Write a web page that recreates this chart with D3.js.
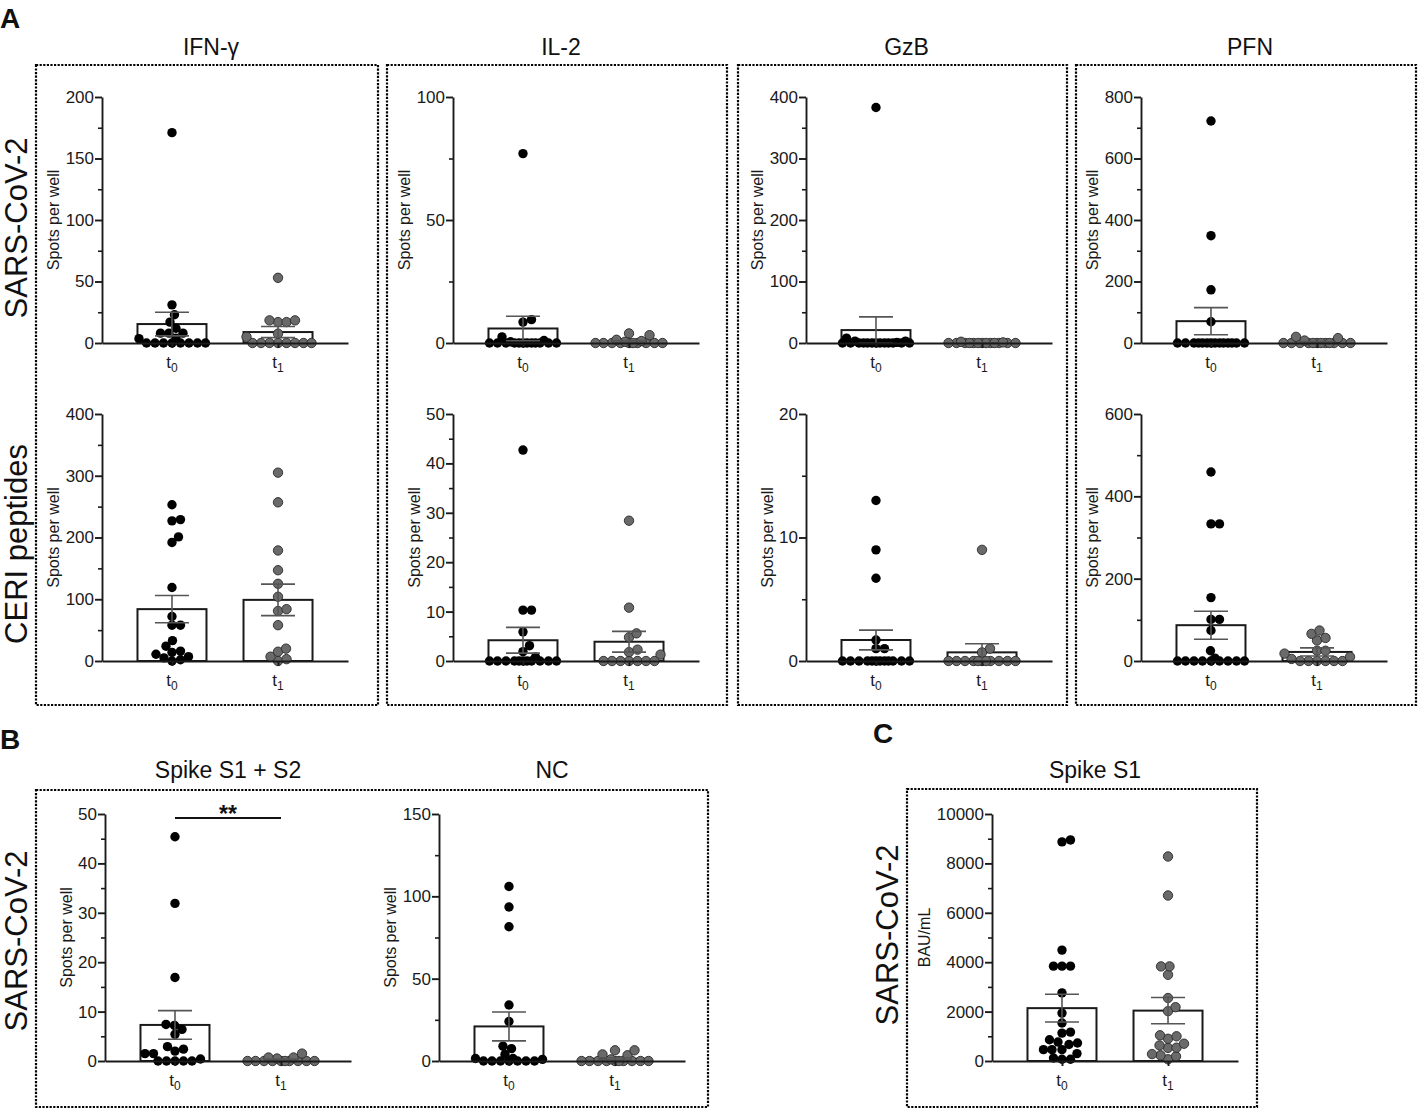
<!DOCTYPE html>
<html>
<head>
<meta charset="UTF-8" />
<title>ELISpot and serology panels</title>
<script src="https://d3js.org/d3.v7.min.js"></script>
<style>
  body { margin: 0; background: #fff; }
  svg { font-family: "Liberation Sans", Arial, Helvetica, sans-serif; }
</style>
</head>
<body>
<svg id="fig" width="1420" height="1109"></svg>

<script type="text/javascript">
// time points on every x axis
const groups = ["t0", "t1"]
const colTitles = ["IFN-γ", "IL-2", "GzB", "PFN"]
const rowTitles = ["SARS-CoV-2", "CERI peptides"]

// A, SARS-CoV-2 row (spots per well)
const ifnSarsT0 = [171, 31, 23, 17, 12, 8, 8, 8, 4, 3.5, 0, 0, 0, 0, 0, 0, 0, 0]
const ifnSarsT1 = [53, 18.4, 18.4, 17, 17, 7.6, 5, 0, 0, 0, 0, 0, 0, 0, 0]
const ifnSarsMean = [15.4, 8.9]
const ifnSarsSem = [9.6, 4.5]

const il2SarsT0 = [77, 9.5, 8.5, 2.5, 1, 0.5, 0, 0, 0, 0, 0, 0, 0, 0, 0, 0, 0, 0]
const il2SarsT1 = [3.9, 3.2, 1.3, 0.8, 0.5, 0, 0, 0, 0, 0, 0, 0, 0, 0, 0]
const il2SarsMean = [5.9, 0.7]
const il2SarsSem = [5.0, 0.3]

const gzbSarsT0 = [383, 8, 3, 3, 1, 0, 0, 0, 0, 0, 0, 0, 0, 0, 0, 0, 0, 0]
const gzbSarsT1 = [2, 1, 0, 0, 0, 0, 0, 0, 0, 0, 0, 0, 0, 0, 0]
const gzbSarsMean = [21, 0.3]
const gzbSarsSem = [21.5, 0.15]

const pfnSarsT0 = [722, 349, 173, 69, 0, 0, 0, 0, 0, 0, 0, 0, 0, 0, 0, 0, 0, 0]
const pfnSarsT1 = [20, 16, 8, 0, 0, 0, 0, 0, 0, 0, 0, 0, 0, 0, 0]
const pfnSarsMean = [71, 3]
const pfnSarsSem = [44, 1.6]

// A, CERI peptides row
const ifnCeriT0 = [253, 229, 227, 201, 192, 119, 72, 58, 58, 33, 24, 16, 14, 11, 7, 5, 2, 0]
const ifnCeriT1 = [305, 257, 179, 147, 125, 104, 84, 81, 58, 20, 15, 7, 3, 0]
const ifnCeriMean = [84, 99]
const ifnCeriSem = [22, 25.5]

const il2CeriT0 = [42.7, 10.3, 10.3, 5.9, 3.1, 1.9, 0.8, 0, 0, 0, 0, 0, 0, 0, 0, 0, 0, 0]
const il2CeriT1 = [28.4, 10.8, 5.6, 4.8, 2.3, 1.8, 1.3, 0, 0, 0, 0, 0, 0, 0]
const il2CeriMean = [4.2, 3.9]
const il2CeriSem = [2.6, 2.1]

const gzbCeriT0 = [13, 9, 6.7, 1.7, 1, 1, 0, 0, 0, 0, 0, 0, 0, 0, 0, 0, 0, 0]
const gzbCeriT1 = [9, 1, 0.7, 0, 0, 0, 0, 0, 0, 0, 0, 0, 0, 0]
const gzbCeriMean = [1.7, 0.7]
const gzbCeriSem = [0.8, 0.7]

const pfnCeriT0 = [459, 333, 333, 154, 101, 101, 74, 25, 7, 0, 0, 0, 0, 0, 0, 0, 0, 0]
const pfnCeriT1 = [74, 66, 56, 50, 25, 25, 18, 10, 5, 0, 0, 0, 0, 0, 0]
const pfnCeriMean = [87, 22]
const pfnCeriSem = [34, 10]

// B, SARS-CoV-2 proteins
const spikeT0 = [45.4, 31.9, 16.9, 7.4, 7.2, 6.4, 5.4, 2.9, 2.4, 2.0, 1.5, 1.5, 0.4, 0, 0, 0, 0, 0]
const spikeT1 = [1.5, 0.7, 0.7, 0.5, 0, 0, 0, 0, 0, 0, 0, 0, 0, 0]
const spikeMean = [7.3, 0.25]
const spikeSem = [2.9, 0.12]

const ncT0 = [106, 93.5, 81.5, 34, 24, 9, 7.5, 4, 1.5, 1.5, 1, 0, 0, 0, 0, 0, 0, 0]
const ncT1 = [6.5, 6.5, 4, 3.5, 1, 0, 0, 0, 0, 0, 0, 0, 0, 0, 0]
const ncMean = [21, 1.4]
const ncSem = [8.8, 0.6]

// C, anti-Spike S1 (BAU/mL)
const s1T0 = [8950, 8870, 4490, 3840, 3840, 3840, 2760, 1940, 1540, 1170, 1130, 860, 770, 730, 670, 460, 460, 460, 300, 120, 70, 70]
const s1T1 = [8280, 6700, 3830, 3830, 3490, 2550, 2180, 2020, 1040, 1000, 900, 700, 630, 540, 530, 280, 230, 190, 70]
const s1Mean = [2140, 2040]
const s1Sem = [560, 530]

// ---- layout ----
const svg = d3.select("#fig")
const ink = "#1a1a1a"
const dotR = 4.7
const barW = 69
const plotW = 246

const panels = [
  {x0: 102, top: 97, zero: 343, max: 200, major: 50, minor: 25, t0: ifnSarsT0, t1: ifnSarsT1, mean: ifnSarsMean, sem: ifnSarsSem},
  {x0: 453, top: 97, zero: 343, max: 100, major: 50, minor: 25, t0: il2SarsT0, t1: il2SarsT1, mean: il2SarsMean, sem: il2SarsSem},
  {x0: 806, top: 97, zero: 343, max: 400, major: 100, minor: 50, t0: gzbSarsT0, t1: gzbSarsT1, mean: gzbSarsMean, sem: gzbSarsSem},
  {x0: 1141, top: 97, zero: 343, max: 800, major: 200, minor: 100, t0: pfnSarsT0, t1: pfnSarsT1, mean: pfnSarsMean, sem: pfnSarsSem},
  {x0: 102, top: 414, zero: 661, max: 400, major: 100, minor: 50, t0: ifnCeriT0, t1: ifnCeriT1, mean: ifnCeriMean, sem: ifnCeriSem},
  {x0: 453, top: 414, zero: 661, max: 50, major: 10, minor: 5, t0: il2CeriT0, t1: il2CeriT1, mean: il2CeriMean, sem: il2CeriSem},
  {x0: 806, top: 414, zero: 661, max: 20, major: 10, minor: 5, t0: gzbCeriT0, t1: gzbCeriT1, mean: gzbCeriMean, sem: gzbCeriSem},
  {x0: 1141, top: 414, zero: 661, max: 600, major: 200, minor: 100, t0: pfnCeriT0, t1: pfnCeriT1, mean: pfnCeriMean, sem: pfnCeriSem},
  {x0: 105, top: 814, zero: 1061, max: 50, major: 10, minor: 5, t0: spikeT0, t1: spikeT1, mean: spikeMean, sem: spikeSem, sig: "**"},
  {x0: 439, top: 814, zero: 1061, max: 150, major: 50, minor: 25, t0: ncT0, t1: ncT1, mean: ncMean, sem: ncSem},
  {x0: 992, top: 814, zero: 1061, max: 10000, major: 2000, minor: 1000, t0: s1T0, t1: s1T1, mean: s1Mean, sem: s1Sem, ylabel: "BAU/mL"}
]

// dotted frames
const boxesA = [[36, 65, 378, 705], [387, 65, 727, 705], [738, 65, 1067, 705], [1076, 65, 1416, 705]]
const boxesBC = [[36, 790, 708, 1107], [907, 789, 1257, 1107]]

function dottedBox(b) {
  svg.append("rect")
    .attr("x", b[0]).attr("y", b[1])
    .attr("width", b[2] - b[0]).attr("height", b[3] - b[1])
    .attr("fill", "none")
    .attr("stroke", "#000")
    .attr("stroke-width", 2.2)
    .attr("stroke-dasharray", "2.2,1.4")
}
boxesA.concat(boxesBC).forEach(dottedBox)

// simple greedy swarm: lowest values first, nearest free slot to the centre
function swarm(values, y, r, lim) {
  const d = 2 * r * 0.9
  const placed = []
  const cands = [0]
  for (let s = 0.5; s <= lim; s += 0.5) cands.push(s, -s)
  values.map(v => ({v: v, cy: y(v)})).sort((a, b) => a.v - b.v).forEach(p => {
    let best = 0, bestScore = -1
    for (const c of cands) {
      let m = Infinity
      placed.forEach(q => { m = Math.min(m, Math.hypot(q.dx - c, q.cy - p.cy)) })
      if (m >= d) { best = c; bestScore = Infinity; break }
      if (m > bestScore + 0.01) { bestScore = m; best = c }
    }
    placed.push({dx: best, cy: p.cy})
  })
  return placed
}

function drawPanel(p) {
  const g = svg.append("g")
  const x = d3.scalePoint().domain(groups).range([p.x0, p.x0 + plotW]).padding(0.66)
  const y = d3.scaleLinear().domain([0, p.max]).range([p.zero, p.top])

  // bars = group means
  g.selectAll(".bar").data(groups).join("rect")
    .attr("x", d => x(d) - barW / 2)
    .attr("y", (d, i) => y(p.mean[i]))
    .attr("width", barW)
    .attr("height", (d, i) => p.zero - y(p.mean[i]))
    .attr("fill", "#fff")
    .attr("stroke", ink)
    .attr("stroke-width", 2)

  // individual values
  ;[p.t0, p.t1].forEach((vals, i) => {
    g.append("g").selectAll("circle").data(swarm(vals, y, dotR, barW / 2 - 1)).join("circle")
      .attr("cx", d => x(groups[i]) + d.dx)
      .attr("cy", d => d.cy)
      .attr("r", dotR)
      .attr("fill", i ? "#6a6a6a" : "#000")
      .attr("stroke", i ? "#2a2a2a" : "none")
      .attr("stroke-width", 0.9)
  })

  // mean +/- SEM
  groups.forEach((gr, i) => {
    const cx = x(gr), lo = y(p.mean[i] - p.sem[i]), hi = y(p.mean[i] + p.sem[i])
    const eb = g.append("g").attr("stroke", "#555").attr("stroke-width", 1.6)
    eb.append("line").attr("x1", cx).attr("x2", cx).attr("y1", lo).attr("y2", hi)
    eb.append("line").attr("x1", cx - 17).attr("x2", cx + 17).attr("y1", hi).attr("y2", hi)
    eb.append("line").attr("x1", cx - 17).attr("x2", cx + 17).attr("y1", lo).attr("y2", lo)
  })

  // y axis, major + minor ticks
  const majors = d3.range(0, p.max + 1e-9, p.major)
  const minors = d3.range(0, p.max + 1e-9, p.minor).filter(v => majors.indexOf(v) < 0)
  const ga = g.append("g").attr("transform", `translate(${p.x0},0)`)
    .call(d3.axisLeft(y).tickValues(majors).tickSize(7).tickPadding(1).tickSizeOuter(0).tickFormat(d3.format("d")))
  g.append("g").attr("transform", `translate(${p.x0},0)`)
    .call(d3.axisLeft(y).tickValues(minors).tickSize(4).tickSizeOuter(0).tickFormat(""))
    .call(a => a.select(".domain").remove())
    .selectAll("line").attr("stroke", ink).attr("stroke-width", 1.6)
  ga.selectAll("line,path").attr("stroke", ink).attr("stroke-width", 1.9)
  ga.selectAll("text").attr("font-size", 17).attr("fill", ink).attr("font-family", null)

  // x axis
  const xa = g.append("g").attr("transform", `translate(0,${p.zero})`)
    .call(d3.axisBottom(x).tickSize(5).tickSizeOuter(0).tickFormat(""))
  xa.selectAll("line,path").attr("stroke", ink).attr("stroke-width", 1.9)
  groups.forEach(gr => {
    const t = g.append("text")
      .attr("x", x(gr)).attr("y", p.zero + 25)
      .attr("text-anchor", "middle").attr("font-size", 17).attr("fill", ink)
      .text("t")
    t.append("tspan").attr("font-size", 12).attr("dy", 4).text(gr.slice(1))
  })

  // y label
  const bb = ga.node().getBBox()
  const lx = p.x0 + bb.x - 12, ly = (p.top + p.zero) / 2
  g.append("text")
    .attr("transform", `translate(${lx},${ly}) rotate(-90)`)
    .attr("text-anchor", "middle").attr("dy", "0.35em")
    .attr("font-size", 16).attr("fill", ink)
    .text(p.ylabel || "Spots per well")

  // significance bracket
  if (p.sig) {
    g.append("line").attr("x1", x("t0")).attr("x2", x("t1"))
      .attr("y1", 818).attr("y2", 818).attr("stroke", "#111").attr("stroke-width", 1.8)
    g.append("text").attr("x", (x("t0") + x("t1")) / 2).attr("y", 822)
      .attr("text-anchor", "middle").attr("font-size", 23).attr("font-weight", "bold")
      .attr("fill", "#111").text(p.sig)
  }
}
panels.forEach(drawPanel)

// titles and labels
function label(txt, x, y, size, opts) {
  opts = opts || {}
  const t = svg.append("text")
    .attr("x", x).attr("y", y)
    .attr("font-size", size).attr("fill", "#111")
    .attr("text-anchor", opts.anchor || "middle")
    .attr("font-weight", opts.bold ? "bold" : null)
    .text(txt)
  if (opts.rotate) {
    t.attr("x", null).attr("y", null).attr("dy", "0.35em")
      .attr("transform", `translate(${x},${y}) rotate(-90)`)
  }
}

colTitles.forEach((c, i) => label(c, (boxesA[i][0] + boxesA[i][2]) / 2 + 4, 55, 23))
label("Spike S1 + S2", 228, 778, 23)
label("NC", 552, 778, 23)
label("Spike S1", 1095, 778, 23)

label(rowTitles[0], 16, 228, 31, {rotate: true})
label(rowTitles[1], 16, 544, 31, {rotate: true})
label("SARS-CoV-2", 16, 941, 31, {rotate: true})
label("SARS-CoV-2", 887, 935, 31, {rotate: true})

label("A", 0, 28, 28, {anchor: "start", bold: true})
label("B", 0, 749, 28, {anchor: "start", bold: true})
label("C", 873, 743, 28, {anchor: "start", bold: true})
</script>
</body>
</html>
